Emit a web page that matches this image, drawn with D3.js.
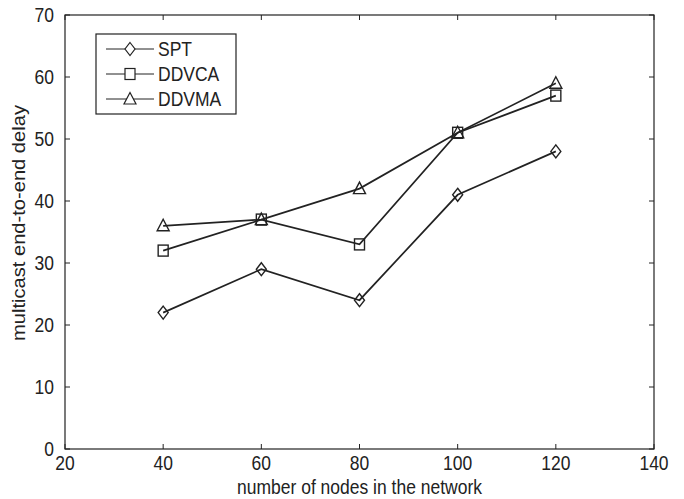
<!DOCTYPE html>
<html><head><meta charset="utf-8">
<script src="https://cdn.jsdelivr.net/npm/d3@7"></script>
<style>body{margin:0;background:#fff;} text{font-family:"Liberation Sans",Arial,sans-serif;fill:#222;}</style>
</head><body>
<svg id="c" width="684" height="499"></svg>
<script>
const nodes = [40, 60, 80, 100, 120];
const spt = [22, 29, 24, 41, 48];
const ddvca = [32, 37, 33, 51, 57];
const ddvma = [36, 37, 42, 51, 59];
const xTicks = [20, 40, 60, 80, 100, 120, 140];
const yTicks = [0, 10, 20, 30, 40, 50, 60, 70];
const seriesNames = ["SPT", "DDVCA", "DDVMA"];

const svg = d3.select("#c");
const L = 65, R = 654, T = 15, B = 449;
const x = d3.scaleLinear().domain([20, 140]).range([L, R]);
const y = d3.scaleLinear().domain([0, 70]).range([B, T]);
const col = "#222";
const SY = 1.15;

svg.append("rect").attr("x", L).attr("y", T).attr("width", R - L).attr("height", B - T)
  .attr("fill", "none").attr("stroke", col).attr("stroke-width", 1.2);

function txt(px, py, s, size, anchor) {
  return svg.append("text").attr("transform", `translate(${px},${py}) scale(1,${SY})`)
    .attr("text-anchor", anchor).attr("font-size", size).text(s);
}

const tl = 5;
const g = svg.append("g");
xTicks.forEach(v => {
  g.append("line").attr("x1", x(v)).attr("x2", x(v)).attr("y1", B).attr("y2", B - tl).attr("stroke", col);
  g.append("line").attr("x1", x(v)).attr("x2", x(v)).attr("y1", T).attr("y2", T + tl).attr("stroke", col);
  txt(x(v), B + 21, v, 17.5, "middle");
});
yTicks.forEach(v => {
  g.append("line").attr("x1", L).attr("x2", L + tl).attr("y1", y(v)).attr("y2", y(v)).attr("stroke", col);
  g.append("line").attr("x1", R).attr("x2", R - tl).attr("y1", y(v)).attr("y2", y(v)).attr("stroke", col);
  txt(L - 11, y(v) + 7, v, 17.5, "end");
});

txt((L + R) / 2 + 0, 494, "number of nodes in the network", 17.5, "middle");
svg.append("text").attr("transform", `translate(25,223) scale(1,${SY}) rotate(-90)`)
  .attr("text-anchor", "middle").attr("font-size", 17.5).text("multicast end-to-end delay");

function marker(sel, type, cx, cy) {
  if (type === 0) {
    sel.append("path").attr("d", `M${cx},${cy - 6.5}L${cx + 5},${cy}L${cx},${cy + 6.5}L${cx - 5},${cy}Z`);
  } else if (type === 1) {
    sel.append("rect").attr("x", cx - 5).attr("y", cy - 5.5).attr("width", 10).attr("height", 11);
  } else {
    sel.append("path").attr("d", `M${cx},${cy - 6.5}L${cx + 6},${cy + 5}L${cx - 6},${cy + 5}Z`);
  }
}

const allSeries = [spt, ddvca, ddvma];
const line = d3.line().x((d, i) => x(nodes[i])).y(d => y(d));
allSeries.forEach((s, k) => {
  svg.append("path").attr("d", line(s)).attr("fill", "none").attr("stroke", col).attr("stroke-width", 1.7);
  const mg = svg.append("g").attr("fill", "none").attr("stroke", col).attr("stroke-width", 1.4);
  s.forEach((v, i) => marker(mg, k, x(nodes[i]), y(v)));
});

// legend
const lg = svg.append("g");
lg.append("rect").attr("x", 96).attr("y", 34).attr("width", 140).attr("height", 80)
  .attr("fill", "#fff").attr("stroke", col).attr("stroke-width", 1.2);
seriesNames.forEach((n, k) => {
  const yy = 49 + k * 25;
  lg.append("line").attr("x1", 106).attr("x2", 154).attr("y1", yy).attr("y2", yy).attr("stroke", col).attr("stroke-width", 1);
  const mg = lg.append("g").attr("fill", "#fff").attr("stroke", col).attr("stroke-width", 1.2);
  marker(mg, k, 130, yy);
  lg.append("text").attr("transform", `translate(158,${yy + 7}) scale(1,${SY})`).attr("font-size", 17.5).text(n);
});
</script>
</body></html>
